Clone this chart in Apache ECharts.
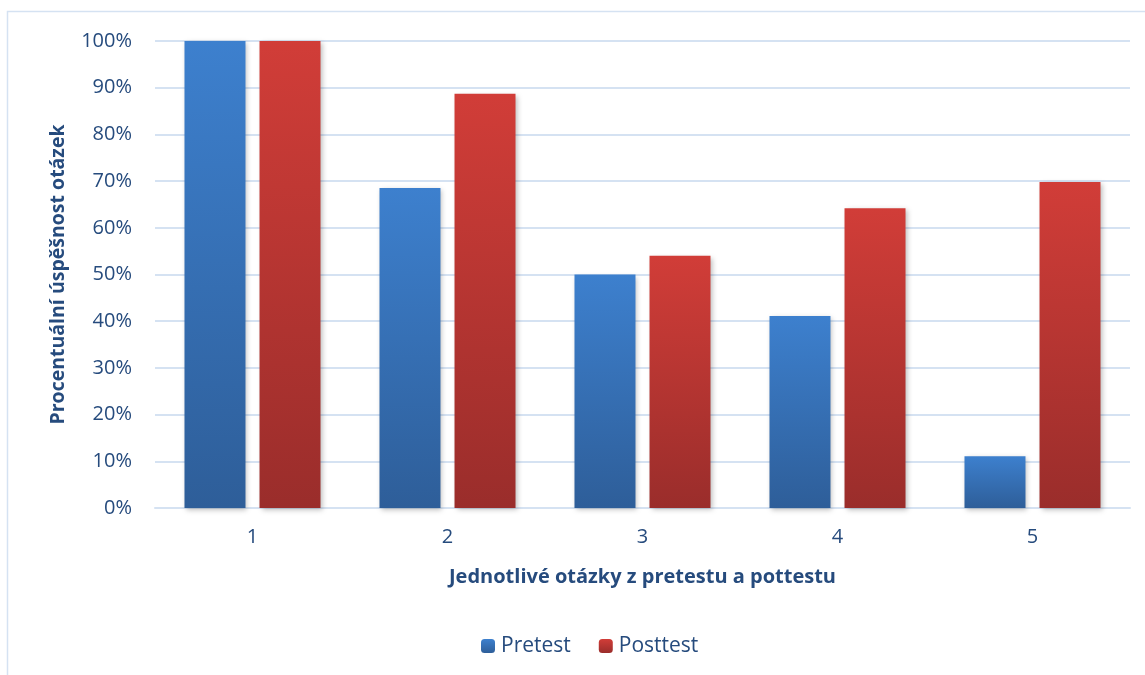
<!DOCTYPE html>
<html><head><meta charset="utf-8">
<script src="https://cdn.jsdelivr.net/npm/echarts@6/dist/echarts.min.js"></script>
<style>html,body{margin:0;padding:0;background:#fff}#c{width:1145px;height:675px}</style>
</head><body><div id="c"></div>
<script>
const categories = ['1', '2', '3', '4', '5'];
const pretest = [100, 68.5, 50, 41.1, 11.1];
const posttest = [100, 88.7, 54, 64.2, 69.8];
const yTicks = [0, 10, 20, 30, 40, 50, 60, 70, 80, 90, 100];

const textColor = '#264b7d';
const font = '"Open Sans", Lato, sans-serif';
const grad = (top, bottom) => new echarts.graphic.LinearGradient(0, 0, 0, 1, [
  {offset: 0, color: top}, {offset: 1, color: bottom}]);

const chart = echarts.init(document.getElementById('c'));
chart.setOption({
  animation: false,
  textStyle: {fontFamily: font},
  graphic: [{
    type: 'rect', shape: {x: 7.5, y: 11.5, width: 1160, height: 700},
    style: {fill: 'none', stroke: '#d5e2f2', lineWidth: 1.5}, z: -1
  }],
  grid: {left: 155, right: 15, top: 41, bottom: 167},
  legend: {
    top: 628, left: 476,
    itemWidth: 14, itemHeight: 14, itemGap: 28,
    textStyle: {color: textColor, fontSize: 21, lineHeight: 26, fontFamily: font, padding: [0, 0, 0, 1]},
    data: ['Pretest', 'Posttest']
  },
  xAxis: {
    type: 'category', data: categories,
    name: 'Jednotlivé otázky z pretestu a pottestu',
    nameLocation: 'middle', nameGap: 59,
    nameTextStyle: {color: textColor, fontSize: 20, fontWeight: 'bold', fontFamily: font},
    axisLine: {lineStyle: {color: '#d5e2f2', width: 2}},
    axisTick: {show: false},
    axisLabel: {color: textColor, fontSize: 20, margin: 19, fontFamily: font}
  },
  yAxis: {
    type: 'value', min: yTicks[0], max: yTicks[yTicks.length - 1], interval: 10,
    name: 'Procentuální úspěšnost otázek',
    nameLocation: 'middle', nameGap: 87,
    nameTextStyle: {color: textColor, fontSize: 19.5, fontWeight: 'bold', fontFamily: font},
    axisLine: {show: false}, axisTick: {show: false},
    axisLabel: {color: textColor, fontSize: 20, margin: 23, fontFamily: font, formatter: v => v + '%'},
    splitLine: {lineStyle: {color: '#d5e2f2', width: 2}}
  },
  series: [
    {
      name: 'Pretest', type: 'bar', data: pretest,
      barWidth: 61, barGap: '23%',
      itemStyle: {color: grad('#3d80ce', '#2e5e99'), shadowColor: 'rgba(0,0,0,0.25)', shadowBlur: 5, shadowOffsetX: 2, shadowOffsetY: 2}
    },
    {
      name: 'Posttest', type: 'bar', data: posttest,
      barWidth: 61,
      itemStyle: {color: grad('#d13d38', '#9a2d2b'), shadowColor: 'rgba(0,0,0,0.25)', shadowBlur: 5, shadowOffsetX: 2, shadowOffsetY: 2}
    }
  ]
});
</script></body></html>
